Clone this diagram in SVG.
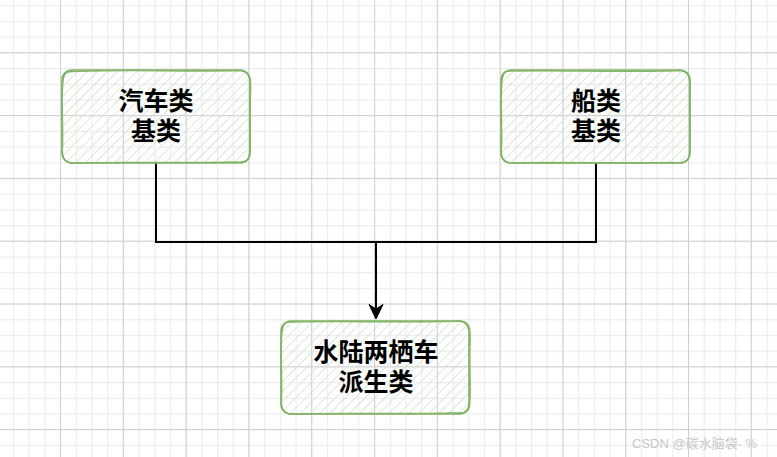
<svg xmlns="http://www.w3.org/2000/svg" width="777" height="457" viewBox="0 0 777 457">
<defs>
<pattern id="minor" patternUnits="userSpaceOnUse" x="12.9" y="5.2" width="15.7" height="15.7">
<path d="M0 0.5H15.7M0.5 0V15.7" stroke="#ececec" stroke-width="1.4" fill="none"/>
</pattern>
<pattern id="major" patternUnits="userSpaceOnUse" x="60" y="52.3" width="62.8" height="62.8">
<path d="M0 0.5H62.8M0.5 0V62.8" stroke="#d0d0d0" stroke-width="1" fill="none"/>
</pattern>
<pattern id="hatch" patternUnits="userSpaceOnUse" width="7" height="7" patternTransform="rotate(45)">
<line x1="0" y1="0" x2="0" y2="7" stroke="#cfe5cc" stroke-width="1.6"/>
</pattern>
</defs>
<style>
.box{fill:url(#hatch);stroke:none}
.sk{fill:none;stroke:#82b366;stroke-width:1.6}
.t{font-family:"Liberation Sans","Noto Sans CJK SC",sans-serif;font-weight:bold;font-size:25px;fill:#000;text-anchor:middle}
.edge{fill:none;stroke:#000;stroke-width:2}
</style>
<rect width="777" height="457" fill="#fff"/>
<rect width="777" height="457" fill="url(#minor)"/>
<rect width="777" height="457" fill="url(#major)"/>
<g id="connectors">
<path class="edge" d="M156 163V242H596V163"/>
<path class="edge" d="M376 242V310"/>
<path d="M376 319L369 304.5L376 309L383 304.5Z" fill="#000" stroke="#000" stroke-width="1" stroke-linejoin="miter"/>
</g>
<g id="node-car">
<rect class="box" x="63" y="71" width="186" height="91" rx="10"/>
<rect class="sk" x="62" y="70" width="188" height="93" rx="10"/>
<path class="sk" d="M74 71.5C120 69 190 72 240 70.5C249 71 251 78 250.5 90C249 115 251.5 140 249.5 155C248 163 243 162.5 230 162C180 163.5 120 161.5 72 163C63 162 61.5 156 62.5 145C63 120 61 95 63 80C64 72 68 71 74 71.5"/>
<text class="t"><tspan x="156" y="109.5">汽车类</tspan><tspan x="156" y="140">基类</tspan></text>
</g>
<g id="node-boat">
<rect class="box" x="502" y="71" width="186" height="91" rx="10"/>
<rect class="sk" x="501" y="70" width="189" height="93" rx="10"/>
<path class="sk" d="M512 71C560 70 630 72.5 680 70.5C689 71 690.5 78 690 90C689 115 691 140 689.5 154C688.5 163 684 163.5 670 162.5C620 163.5 560 162 511 163C502 162.5 500.5 156 501.5 146C502 120 500 95 502 80C503 72 506 70.5 512 71"/>
<text class="t"><tspan x="596" y="109.5">船类</tspan><tspan x="596" y="140">基类</tspan></text>
</g>
<g id="node-amphibious">
<rect class="box" x="282" y="322" width="186" height="91" rx="10"/>
<rect class="sk" x="281" y="321" width="188" height="93" rx="10"/>
<path class="sk" d="M292 322C340 320.5 410 323 460 321C469 321.5 470.5 328 470 340C469 365 471 390 469.5 405C468.5 414 464 413.5 450 413C400 414.5 340 412.5 291 414C282 413 280.5 407 281.5 396C282 370 280 345 282 331C283 323 286 321.5 292 322"/>
<text class="t"><tspan x="376" y="361">水陆两栖车</tspan><tspan x="376" y="391">派生类</tspan></text>
</g>
<text x="632" y="448" font-family="Liberation Sans, Noto Sans CJK SC, sans-serif" font-size="13" fill="#c8c8c8">CSDN @碳水脑袋· %</text>
</svg>
